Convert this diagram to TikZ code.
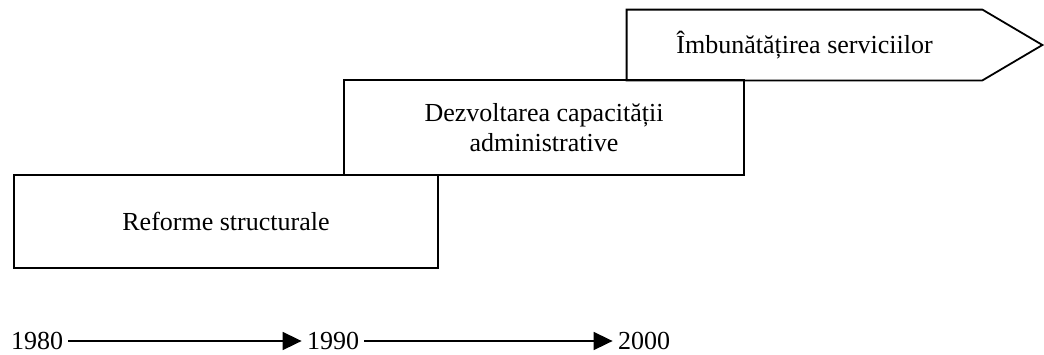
\documentclass[tikz,border=0pt]{standalone}
\usepackage{fontspec}
\setmainfont{Liberation Serif}
\usepackage{tikz}
\usetikzlibrary{positioning,arrows.meta}

\begin{document}
\begin{tikzpicture}[
  x=0.5pt, y=-0.5pt,
  every node/.style={font=\fontsize{13}{15}\selectfont},
  stage/.style={draw, line width=0.9pt, align=center, inner sep=0pt},
  plain/.style={align=center, inner sep=0pt},
  year/.style={inner sep=2.5pt},
  arr/.style={line width=0.85pt, -{Triangle[length=9.5pt, width=9pt]}}
]
\useasboundingbox (0,0) rectangle (1044,354);

% stages
\node[stage, minimum width=212pt, minimum height=46.5pt] (reforme) at (226,221.5) {Reforme structurale};
\node[stage, minimum width=200pt, minimum height=47.5pt] (capacitate) at (544,127.5) {Dezvoltarea capacității\\administrative};
\node[plain, minimum width=177.5pt, minimum height=35pt] (servicii) at (804.5,45) {Îmbunătățirea serviciilor};
\coordinate[right=30pt of servicii.east] (varf);
\draw[line width=0.9pt] (servicii.south west) -- (servicii.north west) -- (servicii.north east)
  -- (varf) -- (servicii.south east) -- cycle;

% timeline
\node[year] (an1980) at (37,341) {1980};
\node[year] (an1990) at (333,341) {1990};
\node[year] (an2000) at (644,341) {2000};
\draw[arr] (an1980) -- (an1990);
\draw[arr] (an1990) -- (an2000);
\end{tikzpicture}
\end{document}
